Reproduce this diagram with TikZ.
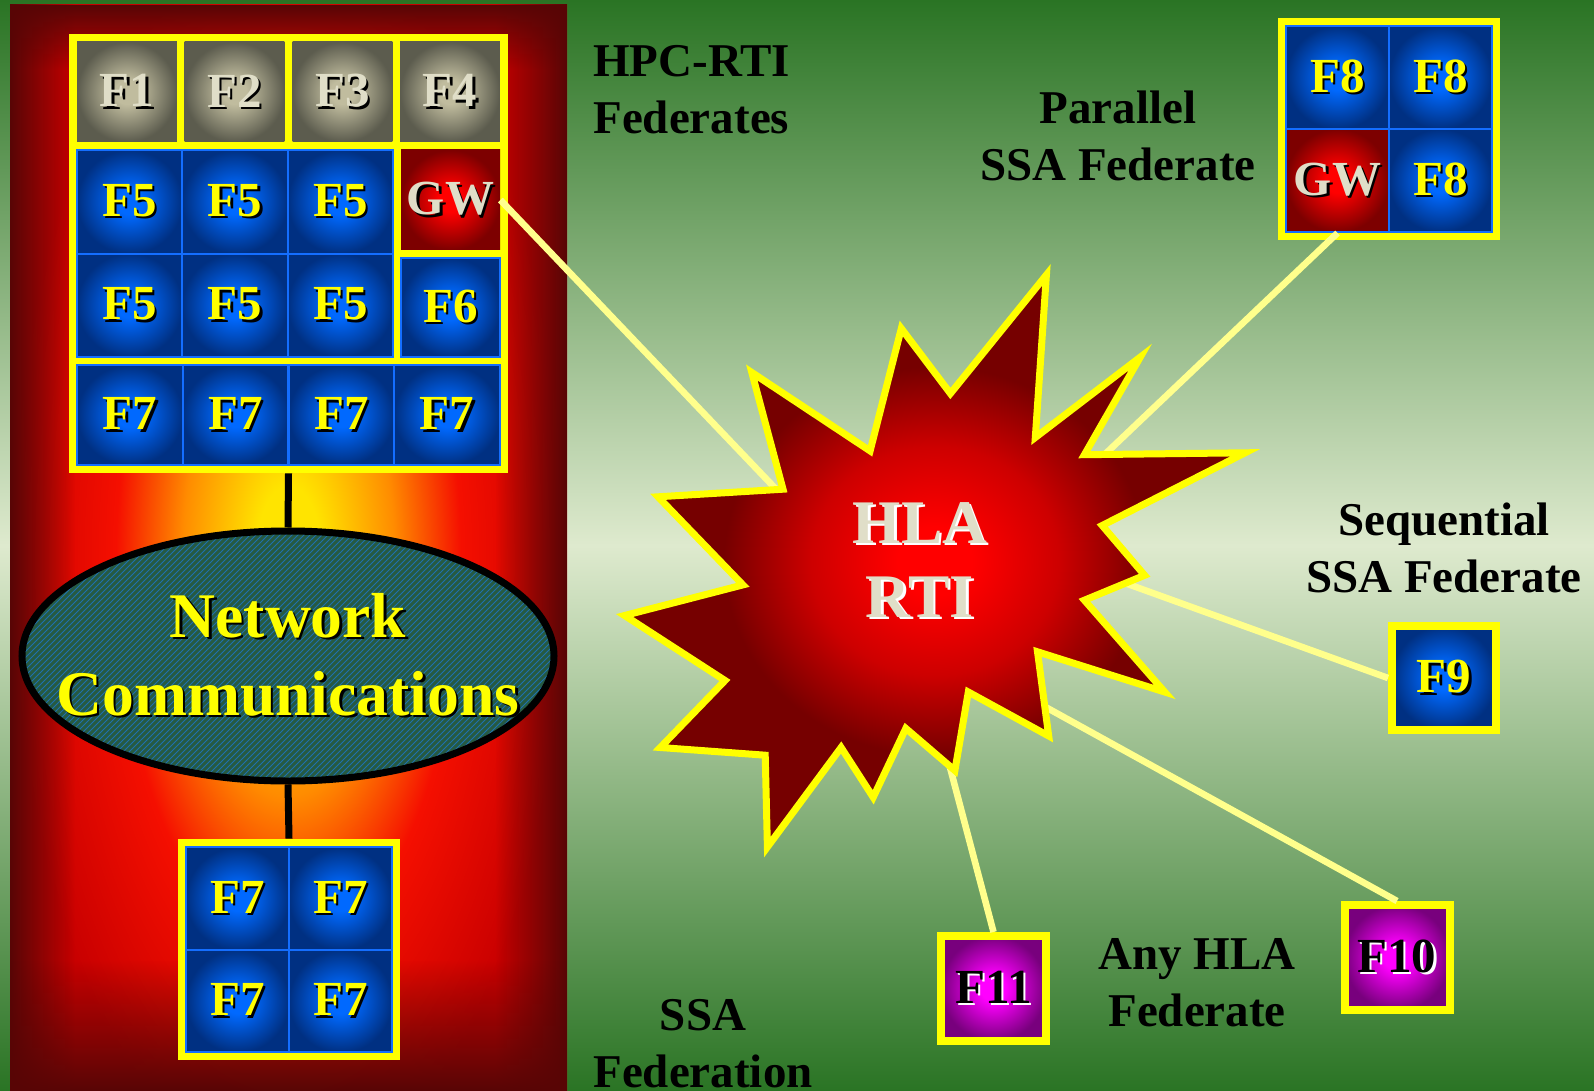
\documentclass[tikz,border=0pt]{standalone}
\usepackage{fontspec}
\setmainfont{Liberation Serif}
\usetikzlibrary{shapes.geometric, patterns, fadings}

\definecolor{meadowdark}{RGB}{42,116,36}
\definecolor{meadowlight}{RGB}{222,234,206}
\definecolor{glowyellow}{RGB}{255,228,0}
\definecolor{gloworange}{RGB}{255,140,0}
\definecolor{glowred}{RGB}{245,15,0}
\definecolor{glowdeep}{RGB}{200,0,0}
\definecolor{glowdark}{RGB}{88,6,6}
\definecolor{frameyellow}{RGB}{255,255,0}
\definecolor{linkyellow}{RGB}{255,255,140}
\definecolor{tileblueC}{RGB}{0,105,255}
\definecolor{tileblueE}{RGB}{0,48,130}
\definecolor{tileline}{RGB}{20,110,255}
\definecolor{tilegreyC}{RGB}{192,188,158}
\definecolor{tilegreyE}{RGB}{92,92,78}
\definecolor{tileredC}{RGB}{255,0,0}
\definecolor{tileredE}{RGB}{125,0,0}
\definecolor{tilepinkC}{RGB}{255,0,255}
\definecolor{tilepinkE}{RGB}{120,0,125}
\definecolor{pale}{RGB}{224,222,200}
\definecolor{netgreen}{RGB}{38,90,66}
\definecolor{netblue}{RGB}{30,112,175}
\definecolor{burstC}{RGB}{255,0,0}
\definecolor{burstM}{RGB}{205,0,0}
\definecolor{burstE}{RGB}{118,0,0}

\pgfdeclareverticalshading{meadow}{100bp}{color(0bp)=(meadowdark); color(25bp)=(meadowdark); color(50bp)=(meadowlight); color(75bp)=(meadowdark); color(100bp)=(meadowdark)}
\pgfdeclareradialshading{panelglow}{\pgfpointorigin}{color(0bp)=(glowyellow); color(3bp)=(glowyellow); color(9.5bp)=(gloworange); color(15.5bp)=(glowred); color(25bp)=(glowdeep); color(50bp)=(glowdeep)}
\pgfdeclareradialshading{bluetile}{\pgfpointorigin}{color(0bp)=(tileblueC); color(6bp)=(tileblueC); color(25bp)=(tileblueE); color(50bp)=(tileblueE)}
\pgfdeclareradialshading{greytile}{\pgfpointorigin}{color(0bp)=(tilegreyC); color(6bp)=(tilegreyC); color(25bp)=(tilegreyE); color(50bp)=(tilegreyE)}
\pgfdeclareradialshading{redtile}{\pgfpointorigin}{color(0bp)=(tileredC); color(6bp)=(tileredC); color(25bp)=(tileredE); color(50bp)=(tileredE)}
\pgfdeclareradialshading{pinktile}{\pgfpointorigin}{color(0bp)=(tilepinkC); color(6bp)=(tilepinkC); color(25bp)=(tilepinkE); color(50bp)=(tilepinkE)}
\pgfdeclareradialshading{burst}{\pgfpointorigin}{color(0bp)=(burstC); color(3bp)=(burstC); color(10bp)=(burstM); color(17bp)=(burstE); color(50bp)=(burstE)}

\tikzfading[name=fade right, left color=transparent!0, right color=transparent!100]
\tikzfading[name=fade left, left color=transparent!100, right color=transparent!0]
\tikzfading[name=fade down, top color=transparent!0, bottom color=transparent!100]
\tikzfading[name=fade up, top color=transparent!100, bottom color=transparent!0]

\newcommand{\shadowtext}[3]{\makebox[0pt][l]{\kern1.2pt\raisebox{-1.2pt}{\color{#3}#1}}{\color{#2}#1}}
\newcommand{\bluefed}[1]{\shadowtext{#1}{frameyellow}{black}}
\newcommand{\palefed}[1]{\shadowtext{#1}{pale}{black}}
\newcommand{\pinkfed}[1]{\shadowtext{#1}{black}{white}}
\newcommand{\rtifed}[1]{\shadowtext{#1}{pale}{white}}

\tikzstyle{tile} = [rectangle, inner sep=0pt, minimum width=49.875pt, minimum height=50pt, font=\fontsize{24.5}{28}\selectfont\bfseries]
\tikzstyle{blue tile} = [tile, shade, shading=bluetile, draw=tileline, line width=1pt]
\tikzstyle{grey tile} = [tile, shade, shading=greytile]
\tikzstyle{red tile} = [tile, shade, shading=redtile]
\tikzstyle{block tile} = [blue tile, minimum width=52.67pt, minimum height=51.75pt]
\tikzstyle{row tile} = [blue tile, minimum width=52.875pt]
\tikzstyle{quad tile} = [blue tile, minimum width=51.5pt, minimum height=51.5pt]
\tikzstyle{single tile} = [tile, draw=frameyellow, line width=4pt, minimum width=52.5pt, minimum height=52.5pt]
\tikzstyle{gridframe} = [rectangle, fill=frameyellow, inner sep=0pt]
\tikzstyle{netnode} = [ellipse, minimum width=266pt, minimum height=125pt, inner sep=0pt, draw=black, line width=3.5pt, preaction={fill=netgreen}, pattern=north east lines, pattern color=netblue]
\tikzstyle{wire} = [line width=3.5pt, draw=black]
\tikzstyle{link} = [line width=3.3pt, draw=linkyellow]
\tikzstyle{fedlabel} = [inner sep=0pt, align=center, font=\fontsize{23.5}{28.5}\selectfont\bfseries]

\begin{document}
\begin{tikzpicture}[x=0.5pt, y=-0.5pt]
\useasboundingbox (0,0) rectangle (1594,1091);
\clip (0,0) rectangle (1594,1091);

%background
\shade[shading=meadow] (0,0) rectangle (1594,1091);

%HPC panel
\begin{scope}
\clip (10,5) rectangle (567,1091);
\shade[shading=panelglow] (10,-60) rectangle (567,1180);
\fill[glowdark, path fading=fade right] (10,-90) rectangle (75,1091);
\fill[glowdark, path fading=fade left] (495,-90) rectangle (567,1091);
\fill[glowdark, path fading=fade down] (10,5) rectangle (567,70);
\fill[glowdark, path fading=fade up] (10,960) rectangle (567,1091);
\end{scope}

%HPC-RTI federates
\node[gridframe, minimum width=219.5pt, minimum height=219.5pt] (hpcgrid) at (288.5,253.5) {};
\node[grey tile] (f1) at (126.9,92) {\palefed{F1}};
\node[grey tile] (f2) at (234.6,92) {\palefed{F2}};
\node[grey tile] (f3) at (342.4,92) {\palefed{F3}};
\node[grey tile] (f4) at (450.1,92) {\palefed{F4}};
\node[block tile] (f5a) at (129.7,201.75) {\bluefed{F5}};
\node[block tile] (f5b) at (235.0,201.75) {\bluefed{F5}};
\node[block tile] (f5c) at (340.3,201.75) {\bluefed{F5}};
\node[block tile] (f5d) at (129.7,305.25) {\bluefed{F5}};
\node[block tile] (f5e) at (235.0,305.25) {\bluefed{F5}};
\node[block tile] (f5f) at (340.3,305.25) {\bluefed{F5}};
\node[red tile, minimum width=49.5pt] (gw) at (450.5,200) {\palefed{GW}};
\node[blue tile, minimum width=49.5pt, minimum height=49.5pt] (f6) at (450.5,307.5) {\bluefed{F6}};
\node[row tile] (f7a) at (129.9,415) {\bluefed{F7}};
\node[row tile] (f7b) at (235.6,415) {\bluefed{F7}};
\node[row tile] (f7c) at (341.4,415) {\bluefed{F7}};
\node[row tile] (f7d) at (447.1,415) {\bluefed{F7}};

%network
\node[netnode] (net) at (288,656) {};
\node[inner sep=0pt, align=center, font=\fontsize{31.8}{39}\selectfont\bfseries] (nettext) at (net) {\bluefed{Network}\\\bluefed{Communications}};

%lower F7 group
\node[gridframe, minimum width=111pt, minimum height=110.5pt] (lowgrid) at (289,949.5) {};
\node[quad tile, minimum height=51.25pt] (f7e) at (237.5,898.6) {\bluefed{F7}};
\node[quad tile, minimum height=51.25pt] (f7f) at (340.5,898.6) {\bluefed{F7}};
\node[quad tile, minimum height=51.25pt] (f7g) at (237.5,1001.1) {\bluefed{F7}};
\node[quad tile, minimum height=51.25pt] (f7h) at (340.5,1001.1) {\bluefed{F7}};

\draw[wire] (hpcgrid.south) -- (net.north);
\draw[wire] (net.south) -- (lowgrid.north);

%parallel SSA federate
\node[gridframe, minimum width=111pt, minimum height=111pt] (pargrid) at (1389,129) {};
\node[quad tile] (f8a) at (1337.5,77.5) {\bluefed{F8}};
\node[quad tile] (f8b) at (1440.5,77.5) {\bluefed{F8}};
\node[quad tile, shading=redtile] (gwpar) at (1337.5,180.5) {\palefed{GW}};
\node[quad tile] (f8c) at (1440.5,180.5) {\bluefed{F8}};

%sequential and other federates
\node[single tile, shade, shading=bluetile, minimum width=52pt, minimum height=52pt] (f9) at (1444,678) {\bluefed{F9}};
\node[single tile, shade, shading=pinktile] (f10) at (1397,957.5) {\pinkfed{F10}};
\node[single tile, shade, shading=pinktile] (f11) at (993.5,988.5) {\pinkfed{F11}};

%links to the RTI
\coordinate (hub) at (915,635);
\coordinate (hubseq) at (920,509);
\draw[link] (gw.east) -- (hub);
\draw[link] (gwpar.south) -- (hub);
\draw[link] (f9.west) -- (hubseq);
\draw[link] (f10.north) -- (hub);
\draw[link] (f11.north) -- (hub);

%RTI burst
\path[shade, shading=burst, draw=frameyellow, line width=3.5pt]
  (1046.4,274.9) -- (950.4,393.5) -- (901.3,328.5) -- (870.1,450.9)
  -- (751.8,372.5) -- (783.0,489.2) -- (658.0,496.8) -- (742.9,584.9)
  -- (624.6,615.5) -- (725.0,680.5) -- (660.3,747.5) -- (765.2,755.2)
  -- (767.4,847.0) -- (841.1,747.5) -- (873.2,797.3) -- (905.8,728.4)
  -- (954.9,770.5) -- (968.3,692.0) -- (1048.7,736.0) -- (1037.5,651.8)
  -- (1164.7,692.0) -- (1084.4,600.2) -- (1144.6,575.3) -- (1102.2,525.5)
  -- (1245.1,452.8) -- (1084.4,454.7) -- (1140.2,357.2) -- (1035.3,437.5)
  -- cycle;
\node[inner sep=0pt, align=center, font=\fontsize{31}{37}\selectfont\bfseries] (rti) at (920,561) {\rtifed{HLA}\\\rtifed{RTI}};

%labels
\node[fedlabel, anchor=west, align=left] (hpclabel) at (593,90) {HPC-RTI\\Federates};
\node[fedlabel] (parlabel) at (1118,136) {Parallel\\SSA Federate};
\node[fedlabel] (seqlabel) at (1444,548) {Sequential\\SSA Federate};
\node[fedlabel] (anylabel) at (1197,983) {Any HLA\\Federate};
\node[fedlabel] (ssalabel) at (703,1044) {SSA\\Federation};

\end{tikzpicture}
\end{document}
